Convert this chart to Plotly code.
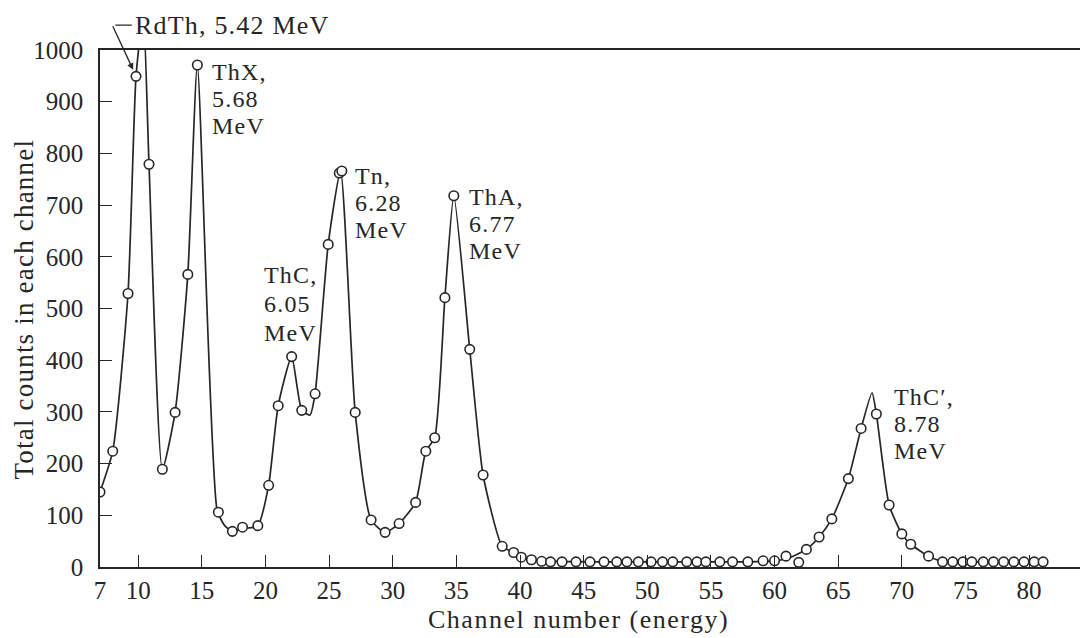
import plotly.graph_objects as go

# Measured counts per channel (open circles)
channel = [7.0, 8.0, 9.2, 9.83, 10.85, 11.9, 12.9, 13.9, 14.65, 16.3, 17.4, 18.2, 19.4,
           20.25, 21.0, 22.06, 22.85, 23.9, 24.93, 25.8, 26.0, 27.05, 28.3, 29.4, 30.5,
           31.8, 32.6, 33.3, 34.1, 34.8, 36.05, 37.1, 38.6, 39.5, 40.1, 40.9, 41.7,
           42.4, 43.3, 44.4, 45.5, 46.6, 47.6, 48.4, 49.3, 50.3, 51.2, 52.0, 53.1,
           53.9, 54.6, 55.7, 56.7, 57.9, 59.1, 60.0, 60.9, 61.9, 62.5, 63.5, 64.5,
           65.8, 66.8, 68.0, 69.0, 70.0, 70.7, 72.1, 73.2, 74.0, 74.8, 75.5, 76.4,
           77.2, 78.0, 78.8, 79.6, 80.4, 81.1]
counts = [145, 224, 529, 949, 779, 189, 299, 566, 971, 106, 69, 77, 80,
          158, 312, 407, 303, 335, 624, 762, 766, 299, 91, 67, 84,
          125, 224, 250, 521, 718, 421, 178, 40, 28, 19, 14, 11,
          10, 10, 10, 10, 10, 10, 10, 10, 10, 10, 10, 10,
          10, 10, 10, 10, 10, 12, 12, 21, 9, 34, 58, 93,
          171, 268, 296, 120, 64, 44, 21, 10, 10, 10, 10, 10,
          10, 10, 10, 10, 10, 10]

# Hand-drawn smooth curve through the spectrum (vertices of the fitted line)
curve_x = [7.0, 8.0, 9.2, 9.83, 10.4, 10.85, 11.9, 12.9, 13.9, 14.65, 16.2, 16.8, 17.4,
           18.2, 19.4, 20.25, 21.0, 22.06, 22.85, 23.5, 23.9, 24.93, 25.9, 27.05,
           28.3, 29.4, 30.5, 31.8, 32.6, 33.3, 34.1, 34.8, 36.05, 37.1, 38.6, 39.5,
           40.1, 41.0, 43.0, 50.0, 58.0, 60.0, 61.0, 62.5, 63.5, 64.5, 65.8, 66.8,
           67.66, 68.0, 69.0, 70.0, 70.7, 72.1, 73.2, 76.0, 81.1]
curve_y = [145, 224, 529, 949, 1070, 779, 189, 299, 566, 971, 110, 80, 69,
           74, 80, 158, 312, 407, 303, 294, 335, 624, 766, 299,
           91, 67, 84, 125, 224, 250, 521, 718, 421, 178, 40, 28,
           19, 14, 11, 10, 10, 12, 16, 34, 58, 93, 171, 268,
           337, 296, 120, 64, 44, 21, 11, 10, 10]

# Peak labels: (channel of left edge, count of first line, lines)
label_x = [15.64, 19.73, 26.87, 35.83, 69.22]
label_y = [957, 565, 756, 716, 329]
label_lines = [["ThX,", "5.68", "MeV"],
               ["ThC,", "6.05", "MeV"],
               ["Tn,", "6.28", "MeV"],
               ["ThA,", "6.77", "MeV"],
               ["ThC\u2032,", "8.78", "MeV"]]
label_gap = [27, 29, 27, 27, 27]

x_ticks = [7, 10, 15, 20, 25, 30, 35, 40, 45, 50, 55, 60, 65, 70, 75, 80]
y_ticks = list(range(0, 1001, 100))

INK = "#262626"
FONT = "Liberation Serif"
LABEL_SIZE = 24


def spaced(text, px):
    return f"<span style='letter-spacing:{px}px'>{text}</span>"


fig = go.Figure()
fig.add_trace(go.Scatter(
    x=curve_x, y=curve_y, mode="lines",
    line=dict(color=INK, width=1.7, shape="spline", smoothing=0.55),
    hoverinfo="skip", showlegend=False))
fig.add_trace(go.Scatter(
    x=channel, y=counts, mode="markers",
    marker=dict(symbol="circle", size=9.5, color="white",
                line=dict(color=INK, width=1.6)),
    showlegend=False))

annotations = []
for lx, ly, lines, gap in zip(label_x, label_y, label_lines, label_gap):
    for i, txt in enumerate(lines):
        annotations.append(dict(
            x=lx, y=ly, xref="x", yref="y", text=spaced(txt, 1.2), showarrow=False,
            xanchor="left", yanchor="middle", yshift=-gap * i,
            font=dict(family=FONT, size=LABEL_SIZE, color=INK)))

# RdTh peak runs off the top of the frame: label above it with a pointer
annotations.append(dict(
    x=9.59, y=1.048, xref="x", yref="paper", text=spaced("RdTh, 5.42 MeV", 1.2),
    showarrow=False, xanchor="left", yanchor="middle",
    font=dict(family=FONT, size=LABEL_SIZE + 2, color=INK)))
annotations.append(dict(
    x=9.5, y=1.048, xref="x", yref="paper", text="", showarrow=True,
    ax=-18, ay=0, arrowhead=0, arrowwidth=1.3, arrowcolor=INK, standoff=0))
annotations.append(dict(
    x=9.6, y=962, xref="x", yref="y", text="", showarrow=True,
    ax=-21, ay=-45, arrowhead=2, arrowsize=1.0, arrowwidth=1.3,
    arrowcolor=INK, standoff=0))

# Axis titles
annotations.append(dict(
    x=0.488, y=-0.133, xref="paper", yref="paper",
    text=spaced("Channel number (energy)", 1.5),
    showarrow=False, xanchor="center", yanchor="bottom",
    font=dict(family=FONT, size=26, color=INK)))
annotations.append(dict(
    x=-0.0776, y=0.5, xref="paper", yref="paper",
    text=spaced("Total counts in each channel", 1.2),
    showarrow=False, xanchor="center", yanchor="middle", textangle=-90,
    font=dict(family=FONT, size=27, color=INK)))

fig.update_layout(
    width=1080, height=638,
    margin=dict(l=100, r=0, t=50, b=71),
    paper_bgcolor="white", plot_bgcolor="white",
    annotations=annotations,
    font=dict(family=FONT, color=INK),
    xaxis=dict(range=[7, 84], tickvals=x_ticks, ticktext=[str(v) for v in x_ticks],
               ticks="inside", ticklen=12, tickwidth=1.4, tickcolor=INK,
               showline=True, linecolor=INK, linewidth=1.6, mirror=True,
               showgrid=False, zeroline=False,
               tickfont=dict(family=FONT, size=25, color=INK)),
    yaxis=dict(range=[0, 1000], tickvals=y_ticks,
               ticks="inside", ticklen=12, tickwidth=1.4, tickcolor=INK,
               showline=True, linecolor=INK, linewidth=1.6, mirror=False,
               showgrid=False, zeroline=False, ticklabelstandoff=10,
               tickfont=dict(family=FONT, size=25, color=INK)),
)

fig.write_html("out.html")
